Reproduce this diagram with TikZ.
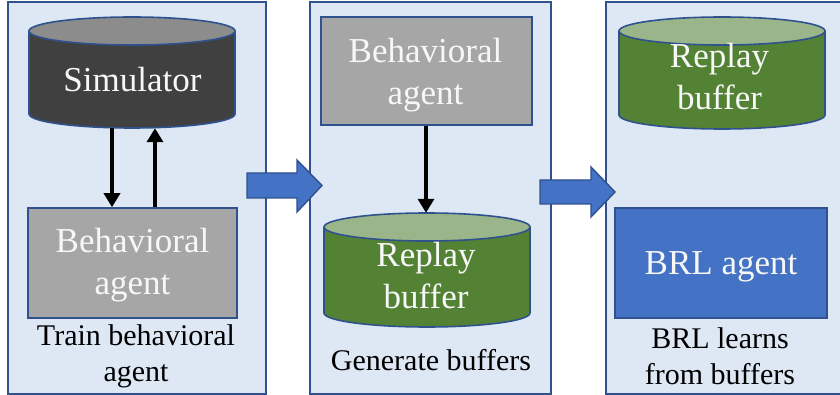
\documentclass[tikz,border=0pt]{standalone}
\usepackage{fontspec}
\setmainfont{Liberation Serif}
\usetikzlibrary{arrows.meta}
\definecolor{panelfill}{HTML}{DEE8F5}
\definecolor{edgeblue}{HTML}{2F528F}
\definecolor{simbody}{HTML}{404040}
\definecolor{simtop}{HTML}{8C8C8C}
\definecolor{grbody}{HTML}{548235}
\definecolor{grtop}{HTML}{9BB58A}
\definecolor{agentgray}{HTML}{A6A6A6}
\definecolor{brlblue}{HTML}{4472C4}
\definecolor{txtwhite}{HTML}{F7F7F7}
% x1, x2, ytop, ybot, body colour, top colour (ellipse half-height 14)
\newcommand{\drawcyl}[6]{%
  \pgfmathsetmacro\cylcx{(#1+#2)/2}%
  \pgfmathsetmacro\cylrx{(#2-#1)/2}%
  \fill[#5] (#1,#3+14) -- (#1,#4-14) arc[start angle=180,end angle=0,x radius=\cylrx,y radius=14] -- (#2,#3+14) -- cycle;
  \draw[edgeblue,line width=1.6pt] (#1,#3+14) -- (#1,#4-14) arc[start angle=180,end angle=0,x radius=\cylrx,y radius=14] -- (#2,#3+14);
  \filldraw[fill=#6,draw=edgeblue,line width=1.6pt] (\cylcx,#3+14) ellipse[x radius=\cylrx,y radius=14];
}
\begin{document}
\begin{tikzpicture}[x=1pt,y=-1pt,
  panel/.style={draw=edgeblue,fill=panelfill,line width=1.6pt,inner sep=0pt},
  hold/.style={inner sep=0pt},
  boxnode/.style={draw=edgeblue,line width=1.6pt,inner sep=0pt},
  bigtxt/.style={text=txtwhite,font=\rmfamily\fontsize{35}{42}\selectfont,align=center,inner sep=0pt},
  captxt/.style={text=black,font=\rmfamily\fontsize{30}{36}\selectfont,align=center,inner sep=0pt},
  flow/.style={line width=4pt,-{Triangle[length=14pt,width=16pt]}},
  blockarrow/.style={fill=brlblue,draw=edgeblue,line width=1.4pt,line join=miter}]
\useasboundingbox (0,0) rectangle (840,395);

% panels
\node[panel,minimum width=258pt,minimum height=392pt] (p1) at (137,198) {};
\node[panel,minimum width=241pt,minimum height=392pt] (p2) at (430.5,198) {};
\node[panel,minimum width=244pt,minimum height=392pt] (p3) at (728,198) {};

% panel 1
\drawcyl{29}{235}{17}{128}{simbody}{simtop}
\node[hold,minimum width=206pt,minimum height=111pt] (sim) at (132,72.5) {};
\node[bigtxt,anchor=base] (simtxt) at (132.5,92) {Simulator};
\node[boxnode,fill=agentgray,minimum width=209pt,minimum height=110pt] (ba1) at (132.5,263) {};
\node[bigtxt] (ba1txt) at (132.5,265) {Behavioral\\agent};
\draw[flow] ([xshift=-20pt]sim.south) -- ([xshift=-20.5pt]ba1.north);
\draw[flow] ([xshift=22.5pt]ba1.north) -- ([xshift=23pt]sim.south);
\node[captxt] (cap1) at (136,356) {Train behavioral\\agent};

% panel 2
\node[boxnode,fill=agentgray,minimum width=211pt,minimum height=108pt] (ba2) at (426.5,71) {};
\node[bigtxt] (ba2txt) at (425.5,75) {Behavioral\\agent};
\drawcyl{324}{530}{213}{327}{grbody}{grtop}
\node[hold,minimum width=206pt,minimum height=114pt] (rb2) at (427,270) {};
\node[bigtxt] (rb2txt) at (426,276) {Replay\\buffer};
\draw[flow] ([xshift=-0.5pt]ba2.south) -- ([xshift=-0.5pt]ba2.south |- rb2.north);
\node[captxt,anchor=base] (cap2) at (431,370) {Generate buffers};

% panel 3
\drawcyl{619}{825}{17}{129}{grbody}{grtop}
\node[hold,minimum width=206pt,minimum height=112pt] (rb3) at (722,73) {};
\node[bigtxt] (rb3txt) at (719.5,77) {Replay\\buffer};
\node[boxnode,fill=brlblue,minimum width=212pt,minimum height=110pt] (brl) at (721,263) {};
\node[bigtxt,anchor=base] (brltxt) at (721,275) {BRL agent};
\node[captxt] (cap3) at (720,356) {BRL learns\\from buffers};

% block arrows between panels
\path[blockarrow] (247,173) -- (297,173) -- (297,160) -- (322,185.5) -- (297,212) -- (297,198) -- (247,198) -- cycle;
\path[blockarrow] (540,180) -- (591,180) -- (591,167) -- (615,192) -- (591,217) -- (591,204) -- (540,204) -- cycle;
\end{tikzpicture}
\end{document}
